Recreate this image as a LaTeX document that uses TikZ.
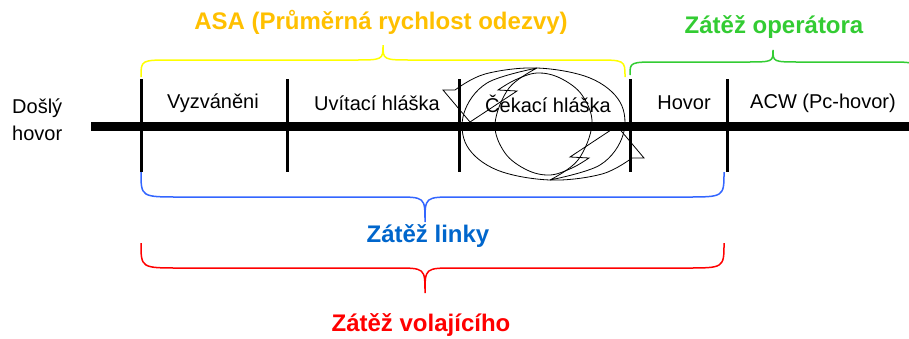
\documentclass[tikz,border=0pt]{standalone}
\usepackage{fontspec}
\setmainfont{Liberation Sans}
\definecolor{asatxt}{HTML}{FFC000}
\definecolor{asabr}{HTML}{FFFF00}
\definecolor{opgreen}{HTML}{33CC33}
\definecolor{linkybr}{HTML}{3366FF}
\definecolor{linkytxt}{HTML}{0066CC}
\definecolor{volred}{HTML}{FF0000}
\begin{document}
\begin{tikzpicture}[x=1pt,y=-1pt,
  lbl/.style={font=\fontsize{20}{24}\selectfont, inner sep=0pt},
  ttl/.style={font=\fontsize{24}{28}\selectfont\bfseries, inner sep=0pt},
  tickline/.style={line width=3pt},
  bracepath/.style={line width=1.5pt},
  cyc/.style={line width=0.8pt, black}]
\clip (0,0) rectangle (909,338);
\fill[white] (0,0) rectangle (909,338);

% coordinates of the timeline
\coordinate (lineL) at (91,126);
\coordinate (lineR) at (909,126);
\coordinate (t1top) at (141,79); \coordinate (t1bot) at (141,172);
\coordinate (t2top) at (287,79); \coordinate (t2bot) at (287,172);
\coordinate (t3top) at (459,79); \coordinate (t3bot) at (459,172);
\coordinate (t4top) at (630,79); \coordinate (t4bot) at (630,172);
\coordinate (t5top) at (727,79); \coordinate (t5bot) at (727,172);

% cycle symbol (two curved arrows)
\begin{scope}
  \draw[cyc] plot[smooth, tension=0.6] coordinates {(455,90) (485,74) (537,68) (590,78) (620,102) (623,135) (600,165) (550,180)}
     plot[smooth, tension=0.6] coordinates {(550,180) (578,160) (592,124) (582,95) (560,78) (537,73) (515,80) (498,90)}
     -- (517,91) -- (470,122) -- (443,90) -- (455,90);
\end{scope}
\begin{scope}[rotate around={180:(543.5,124)}]
  \draw[cyc] plot[smooth, tension=0.6] coordinates {(455,90) (485,74) (537,68) (590,78) (620,102) (623,135) (600,165) (550,180)}
     plot[smooth, tension=0.6] coordinates {(550,180) (578,160) (592,124) (582,95) (560,78) (537,73) (515,80) (498,90)}
     -- (517,91) -- (470,122) -- (443,90) -- (455,90);
\end{scope}

% timeline
\draw[line width=9pt] (lineL) -- (lineR);
\draw[tickline] (t1top) -- (t1bot);
\draw[tickline] (t2top) -- (t2bot);
\draw[tickline] (t3top) -- (t3bot);
\draw[tickline] (t4top) -- (t4bot);
\draw[tickline] (t5top) -- (t5bot);

% labels
\node[lbl, anchor=west] (dosly) at (12,108) {Došlý};
\node[lbl, anchor=west] (hovorin) at (12,133) {hovor};
\node[lbl] (vyz) at (213,103) {Vyzváněni};
\node[lbl] (uvit) at (377,103) {Uvítací hláška};
\node[lbl] (cek) at (548,104) {Čekací hláška};
\node[lbl] (hov) at (684,103) {Hovor};
\node[lbl] (acw) at (823,103) {ACW (Pc-hovor)};

% braces
\coordinate (yL) at (141,77);
\coordinate (yR) at (625,77);
\coordinate (gL) at (630,75);
\coordinate (gR) at (916,75);
\draw[bracepath, asabr] (yL) .. controls (141,60) .. (172,60) -- (353,60)
  .. controls (383,60) .. (383,45) .. controls (383,60) .. (413,60) -- (594,60)
  .. controls (625,60) .. (yR);
\draw[bracepath, opgreen] (gL) .. controls (630,62) .. (660,62) -- (745,62)
  .. controls (773,62) .. (773,50) .. controls (773,62) .. (801,62) -- (886,62)
  .. controls (916,62) .. (gR);
\coordinate (bR) at (724,172);
\draw[bracepath, linkybr] (t1bot) .. controls (141,197) .. (180,197) -- (395,197)
  .. controls (425,197) .. (425,222) .. controls (425,197) .. (455,197) -- (686,197)
  .. controls (724,197) .. (bR);
\coordinate (rL) at (141,243);
\coordinate (rR) at (724,243);
\draw[bracepath, volred] (rL) .. controls (141,268) .. (180,268) -- (395,268)
  .. controls (425,268) .. (425,293) .. controls (425,268) .. (455,268) -- (686,268)
  .. controls (724,268) .. (rR);

% titles
\node[ttl, text=asatxt] (asa) at (381,22) {ASA (Průměrná rychlost odezvy)};
\node[ttl, text=opgreen] (oper) at (774,27) {Zátěž operátora};
\node[ttl, text=linkytxt] (linky) at (428,236) {Zátěž linky};
\node[ttl, text=volred] (vol) at (421,325) {Zátěž volajícího};
\end{tikzpicture}
\end{document}
